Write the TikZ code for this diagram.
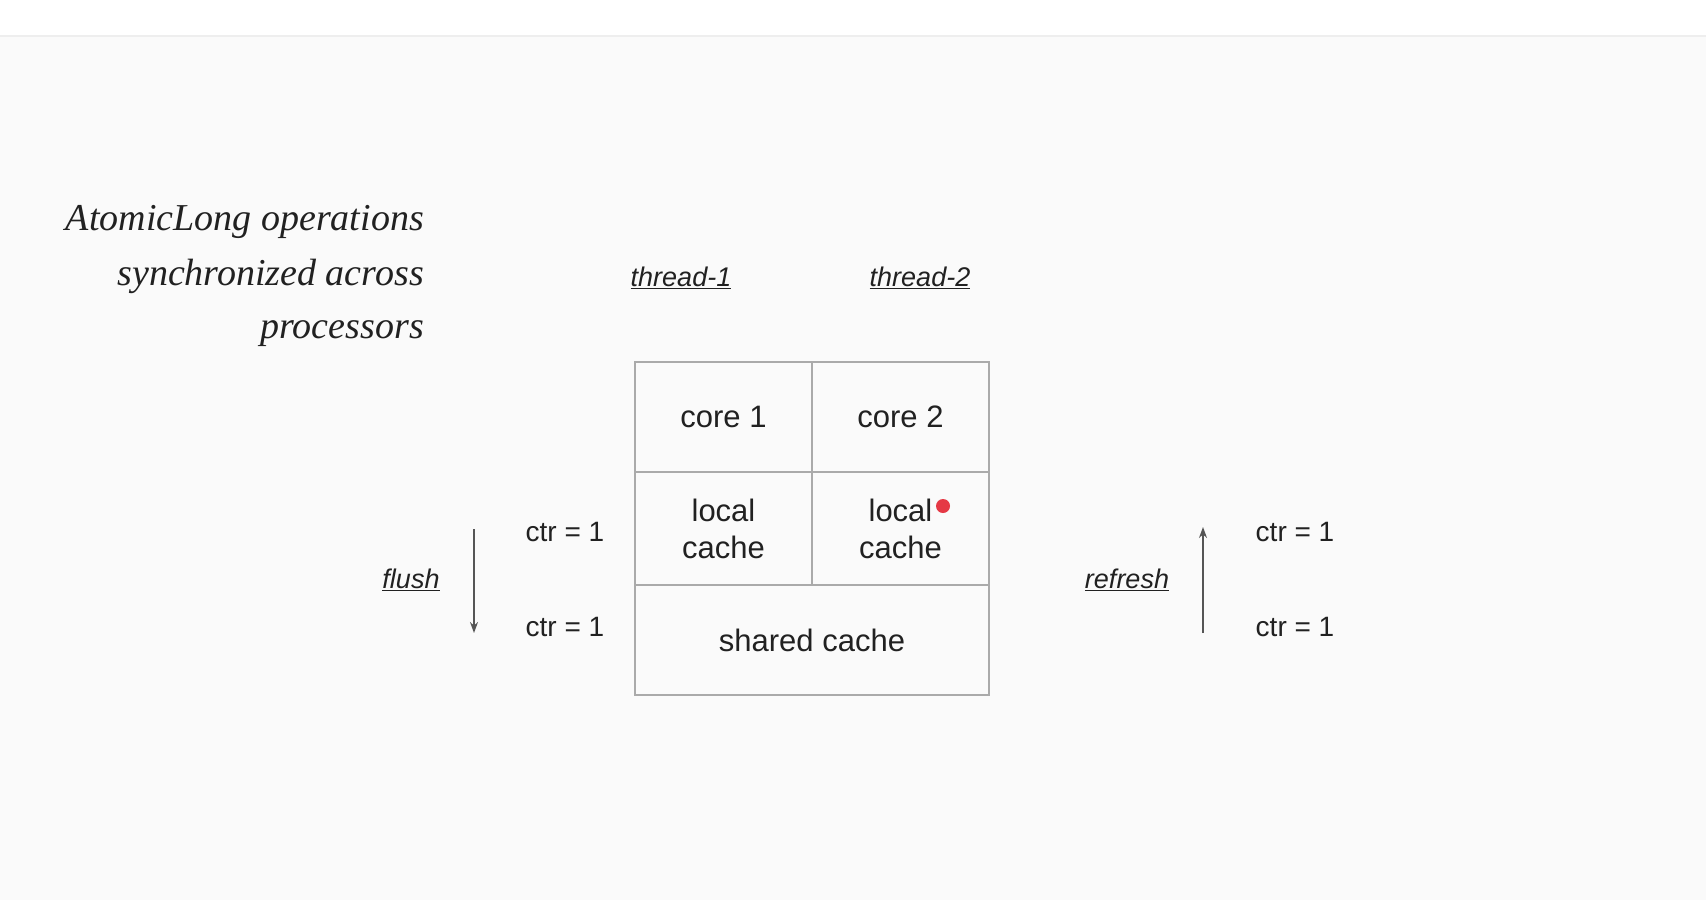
\documentclass[tikz,border=0pt]{standalone}
\usepackage{fontspec}
\setmainfont{Liberation Sans}
\newfontfamily\handfont{Liberation Serif}
\usetikzlibrary{arrows.meta}
\definecolor{bgc}{HTML}{FAFAFA}
\definecolor{bandline}{HTML}{EEEEEE}
\definecolor{txt}{HTML}{212121}
\definecolor{cellline}{HTML}{AAAAAA}
\definecolor{arr}{HTML}{555555}
\definecolor{dotred}{HTML}{E53945}
\tikzset{
  cell/.style={draw=cellline, line width=1.6pt, rectangle, inner sep=0pt, align=center, text=txt, font=\fontsize{31}{37}\selectfont},
  lbl/.style={inner sep=0pt, text=txt, font=\fontsize{28}{36}\selectfont},
  ulbl/.style={inner sep=0pt, text=txt, font=\fontsize{27}{34}\selectfont\itshape},
  title/.style={inner sep=0pt, anchor=base east, text=txt, font=\fontsize{38}{50}\handfont\itshape},
  flow/.style={draw=arr, line width=1.5pt, -{Stealth[length=11pt,width=8pt]}}
}
\begin{document}
\begin{tikzpicture}[x=1pt,y=-1pt]
\useasboundingbox (0,0) rectangle (1706,900);
\fill[bgc] (0,0) rectangle (1706,900);
\fill[white] (0,0) rectangle (1706,36);
\draw[bandline, line width=1.2pt] (0,36) -- (1706,36);

% title
\node[title] (t1) at (424,230) {AtomicLong operations};
\node[title] (t2) at (424,285) {synchronized across};
\node[title] (t3) at (424,338) {processors};

% threads
\node[ulbl] (th1) at (681,278) {\underline{thread-1}};
\node[ulbl] (th2) at (920,278) {\underline{thread-2}};

% cells
\node[cell, minimum width=177pt, minimum height=110pt] (c1) at (723.5,417) {core 1};
\node[cell, minimum width=177pt, minimum height=110pt] (c2) at (900.5,417) {core 2};
\node[cell, minimum width=177pt, minimum height=113pt] (l1) at (723.5,528.5) {local\\cache};
\node[cell, minimum width=177pt, minimum height=113pt] (l2) at (900.5,528.5) {local\\cache};
\node[cell, minimum width=354pt, minimum height=110pt] (sh) at (812,640) {shared cache};
\fill[dotred] (943,506) circle (7pt);

% flush side
\node[ulbl] (fl) at (411,580) {\underline{flush}};
\coordinate (fa) at (474,529);
\coordinate (fb) at (474,633);
\draw[flow] (fa) -- (fb);
\node[lbl] (lc1) at (565,532) {ctr = 1};
\node[lbl] (lc2) at (565,627) {ctr = 1};

% refresh side
\node[ulbl] (rf) at (1127,580) {\underline{refresh}};
\coordinate (ra) at (1203,633);
\coordinate (rb) at (1203,527);
\draw[flow] (ra) -- (rb);
\node[lbl] (rc1) at (1295,532) {ctr = 1};
\node[lbl] (rc2) at (1295,627) {ctr = 1};
\end{tikzpicture}
\end{document}
